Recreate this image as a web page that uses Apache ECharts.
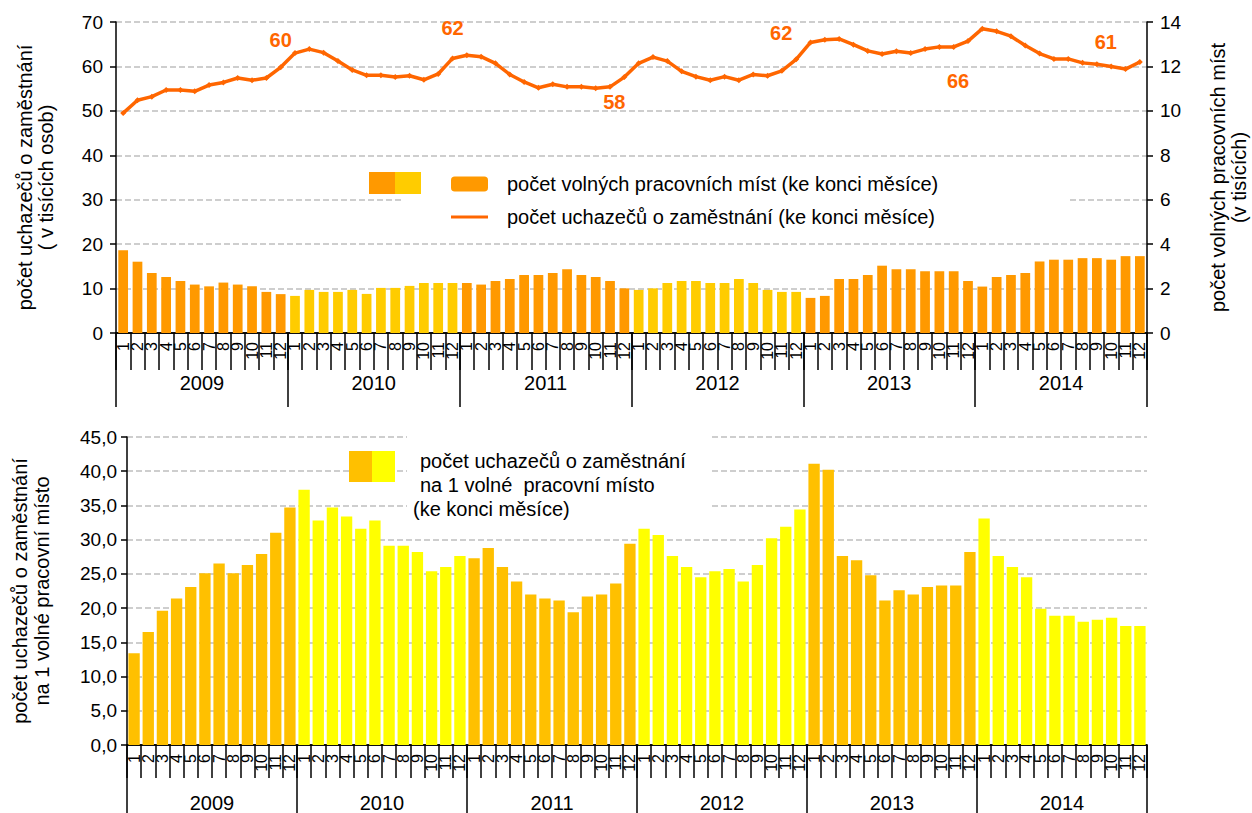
<!DOCTYPE html>
<html>
<head>
<meta charset="utf-8">
<script src="https://cdn.jsdelivr.net/npm/echarts@6/dist/echarts.min.js"></script>
<style>html,body{margin:0;padding:0;background:#fff}#c{width:1252px;height:813px}</style>
</head>
<body>
<div id="c"></div>
<script>
const years = ['2009', '2010', '2011', '2012', '2013', '2014'];
const monthLabels = ['1', '2', '3', '4', '5', '6', '7', '8', '9', '10', '11', '12'];

// počet volných pracovních míst (v tisících)
const vacancies = [
  3.73, 3.21, 2.70, 2.52, 2.34, 2.18, 2.10, 2.27, 2.18, 2.10, 1.85, 1.75,
  1.67, 1.94, 1.85, 1.85, 1.94, 1.76, 2.03, 2.03, 2.12, 2.25, 2.25, 2.25,
  2.25, 2.18, 2.34, 2.43, 2.61, 2.61, 2.70, 2.87, 2.61, 2.52, 2.34, 2.01,
  1.94, 2.01, 2.25, 2.34, 2.34, 2.25, 2.25, 2.43, 2.25, 1.94, 1.85, 1.85,
  1.58, 1.67, 2.43, 2.43, 2.61, 3.03, 2.87, 2.87, 2.78, 2.78, 2.78, 2.34,
  2.09, 2.52, 2.61, 2.70, 3.22, 3.30, 3.30, 3.37, 3.37, 3.30, 3.46, 3.46
];

// počet uchazečů o zaměstnání (v tisících osob)
const applicants = [
  49.5, 52.4, 53.2, 54.7, 54.7, 54.4, 55.8, 56.4, 57.4, 56.9, 57.4, 59.8,
  63.0, 63.9, 63.1, 61.2, 59.2, 58.0, 58.0, 57.6, 57.9, 57.0, 58.3, 61.8,
  62.5, 62.2, 60.7, 58.2, 56.5, 55.2, 56.0, 55.4, 55.4, 55.1, 55.4, 57.6,
  60.7, 62.1, 61.2, 58.9, 57.7, 56.9, 57.7, 56.9, 58.2, 57.9, 59.0, 61.6,
  65.4, 66.0, 66.2, 64.9, 63.5, 62.8, 63.4, 63.0, 63.9, 64.4, 64.4, 65.7,
  68.5, 67.9, 66.8, 64.7, 62.9, 61.7, 61.7, 60.8, 60.5, 60.0, 59.4, 61.0
];

// počet uchazečů na 1 volné pracovní místo
const ratio = [
  13.4, 16.5, 19.6, 21.4, 23.1, 25.1, 26.5, 25.1, 26.3, 27.9, 31.0, 34.7,
  37.3, 32.8, 34.7, 33.4, 31.6, 32.8, 29.1, 29.1, 28.2, 25.4, 26.0, 27.6,
  27.3, 28.8, 26.0, 23.9, 22.0, 21.4, 21.1, 19.4, 21.7, 22.0, 23.6, 29.4,
  31.6, 30.7, 27.6, 26.0, 24.5, 25.4, 25.7, 23.9, 26.3, 30.2, 31.9, 34.4,
  41.1, 40.2, 27.6, 27.0, 24.8, 21.1, 22.6, 22.0, 23.1, 23.3, 23.3, 28.2,
  33.1, 27.6, 26.0, 24.5, 19.9, 18.9, 18.9, 18.0, 18.3, 18.6, 17.4, 17.4
];

const leftTicksTop = { min: 0, max: 70, interval: 10 };
const rightTicksTop = { min: 0, max: 14, interval: 2 };
const ticksBottom = { min: 0, max: 45, interval: 5 };

const nameVacancies = 'počet volných pracovních míst (ke konci měsíce)';
const nameApplicants = 'počet uchazečů o zaměstnání (ke konci měsíce)';
const nameRatio = 'počet uchazečů o zaměstnání na 1 volné pracovní místo (ke konci měsíce)';
const ratioLegendLines = ['počet uchazečů o zaměstnání', 'na 1 volné  pracovní místo', '(ke konci měsíce)'];
const leftTitleTop = 'počet uchazečů o zaměstnání\n( v tisících osob)';
const rightTitleTop = 'počet volných pracovních míst\n(v tisících)';
const leftTitleBottom = 'počet uchazečů o zaměstnání\nna 1 volné pracovní místo';

// styles
const topYearColors = ['#FF9900', '#FFCC00', '#FF9900', '#FFCC00', '#FF9900', '#FF9900'];
const bottomYearColors = ['#FFC000', '#FFFF00', '#FFC000', '#FFFF00', '#FFC000', '#FFFF00'];
const decLabelOffsets = [[0, -27], [0, -30], [-10, 25], [-15, -26], [-10, 40], [-34, -20]];
const FONT = 'Liberation Sans, Arial, sans-serif';

const categories = [];
years.forEach(y => monthLabels.forEach(m => categories.push(y + '-' + m)));

const gridLine = { show: true, lineStyle: { color: '#BFBFBF', width: 1.5, type: [6, 3] } };
const blackLine = { show: true, lineStyle: { color: '#000', width: 1.5 } };

function monthAxis(gridIndex, tickLen) {
  return {
    type: 'category', gridIndex, position: 'bottom', data: categories,
    axisLine: blackLine,
    axisTick: { show: true, interval: 0, length: tickLen, lineStyle: { color: '#000', width: 1.5 } },
    axisLabel: { interval: 0, rotate: 90, margin: 9, fontSize: 16, color: '#000', fontFamily: FONT,
      formatter: v => v.split('-')[1] },
    splitLine: { show: false }
  };
}
function yearAxis(gridIndex, tickLen, margin) {
  return {
    type: 'category', gridIndex, position: 'bottom', data: years,
    axisLine: blackLine,
    axisTick: { show: true, interval: 0, length: tickLen, lineStyle: { color: '#000', width: 1.5 } },
    axisLabel: { interval: 0, margin, fontSize: 20, color: '#000', fontFamily: FONT },
    splitLine: { show: false }
  };
}

const option = {
  animation: false,
  backgroundColor: '#fff',
  textStyle: { fontFamily: FONT },
  grid: [
    { left: 116, right: 105, top: 22, height: 311, containLabel: false, outerBoundsMode: 'none' },
    { left: 127, right: 105, top: 437, height: 308, containLabel: false, outerBoundsMode: 'none' }
  ],
  xAxis: [
    monthAxis(0, 37),
    yearAxis(0, 74, 40),
    monthAxis(1, 33),
    yearAxis(1, 72, 48)
  ],
  yAxis: [
    {
      type: 'value', gridIndex: 0, position: 'left', ...leftTicksTop,
      axisLine: blackLine, axisTick: { show: true, length: 6, lineStyle: { color: '#000', width: 1.5 } },
      axisLabel: { fontSize: 19, margin: 13, color: '#000', fontFamily: FONT },
      splitLine: gridLine,
      name: leftTitleTop, nameLocation: 'middle', nameRotate: 90, nameGap: 60,
      nameTextStyle: { fontSize: 20, lineHeight: 21, color: '#000', fontFamily: FONT }
    },
    {
      type: 'value', gridIndex: 0, position: 'right', ...rightTicksTop,
      axisLine: blackLine, axisTick: { show: true, length: 6, lineStyle: { color: '#000', width: 1.5 } },
      axisLabel: { fontSize: 19, margin: 13, color: '#000', fontFamily: FONT },
      splitLine: { show: false },
      name: rightTitleTop, nameLocation: 'middle', nameRotate: 90, nameGap: 60,
      nameTextStyle: { fontSize: 20, lineHeight: 21, color: '#000', fontFamily: FONT }
    },
    {
      type: 'value', gridIndex: 1, position: 'left', ...ticksBottom,
      axisLine: blackLine, axisTick: { show: true, length: 6, lineStyle: { color: '#000', width: 1.5 } },
      axisLabel: { fontSize: 19, margin: 10, color: '#000', fontFamily: FONT,
        formatter: v => v.toFixed(1).replace('.', ',') },
      splitLine: gridLine,
      name: leftTitleBottom, nameLocation: 'middle', nameRotate: 90, nameGap: 74,
      nameTextStyle: { fontSize: 20, lineHeight: 22, color: '#000', fontFamily: FONT }
    }
  ],
  legend: [{
    data: [nameVacancies, { name: nameApplicants, icon: 'path://M0,6L40,6L40,9L0,9Z' }],
    orient: 'vertical', left: 451, top: 174, itemWidth: 37, itemHeight: 15, itemGap: 13,
    selectedMode: false, padding: 0,
    textStyle: { fontSize: 20, color: '#000', fontFamily: FONT, padding: [0, 0, 0, 14] }
  }],
  graphic: [
    { type: 'rect', z: 1, shape: { x: 402, y: 163, width: 666, height: 72 }, style: { fill: '#fff' } },
    { type: 'rect', z: 5, shape: { x: 369, y: 172, width: 26, height: 22 }, style: { fill: '#FF9900' } },
    { type: 'rect', z: 5, shape: { x: 395, y: 172, width: 26, height: 22 }, style: { fill: '#FFCC00' } },
    { type: 'rect', z: 1, shape: { x: 407, y: 426, width: 303, height: 96 }, style: { fill: '#fff' } },
    { type: 'rect', z: 5, shape: { x: 349, y: 451, width: 23, height: 31 }, style: { fill: bottomYearColors[0] } },
    { type: 'rect', z: 5, shape: { x: 372, y: 451, width: 23, height: 31 }, style: { fill: bottomYearColors[1] } },
    { type: 'text', z: 5, style: { text: ratioLegendLines[0], x: 420, y: 461, font: '20px ' + FONT, fill: '#000', verticalAlign: 'middle' } },
    { type: 'text', z: 5, style: { text: ratioLegendLines[1], x: 420, y: 485, font: '20px ' + FONT, fill: '#000', verticalAlign: 'middle' } },
    { type: 'text', z: 5, style: { text: ratioLegendLines[2], x: 413, y: 509, font: '20px ' + FONT, fill: '#000', verticalAlign: 'middle' } }
  ],
  series: [
    {
      name: nameVacancies, type: 'bar', xAxisIndex: 0, yAxisIndex: 1,
      barCategoryGap: '32%',
      itemStyle: { color: topYearColors[0] },
      data: vacancies.map((v, i) => ({ value: v, itemStyle: { color: topYearColors[Math.floor(i / 12)] } }))
    },
    {
      name: nameApplicants, type: 'line', xAxisIndex: 0, yAxisIndex: 0,
      symbol: 'diamond', symbolSize: 6, z: 3,
      itemStyle: { color: '#FF6600' },
      lineStyle: { color: '#FF6600', width: 3.5 },
      label: { show: false },
      data: applicants.map((v, i) => i % 12 === 11 ? {
        value: v,
        label: {
          show: true, position: 'inside', offset: decLabelOffsets[Math.floor(i / 12)],
          formatter: p => String(Math.round(p.value)),
          fontSize: 20, fontWeight: 'bold', color: '#FF6600', fontFamily: FONT
        }
      } : v)
    },
    {
      name: nameRatio, type: 'bar', xAxisIndex: 2, yAxisIndex: 2,
      barCategoryGap: '20%',
      itemStyle: { color: bottomYearColors[0] },
      data: ratio.map((v, i) => ({ value: v, itemStyle: { color: bottomYearColors[Math.floor(i / 12)] } }))
    }
  ]
};

const chart = echarts.init(document.getElementById('c'), null, { renderer: 'svg' });
chart.setOption(option);
</script>
</body>
</html>
